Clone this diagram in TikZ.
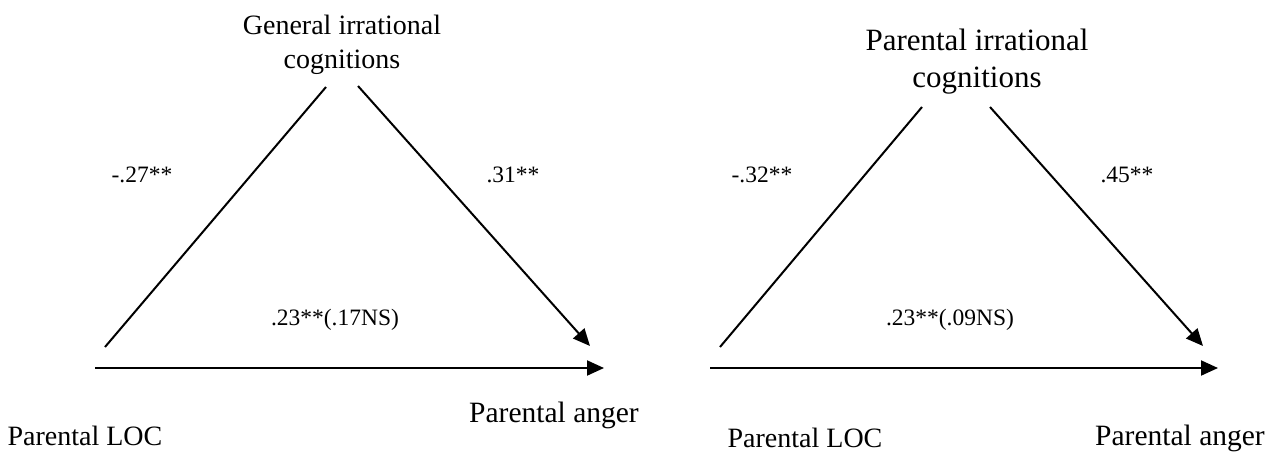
\documentclass[tikz,border=0pt]{standalone}
\usepackage{fontspec}
\setmainfont{Liberation Serif}
\usetikzlibrary{arrows.meta}
\begin{document}
\begin{tikzpicture}[x=1pt,y=-1pt,
  lbl/.style={font=\fontsize{28}{34}\selectfont, align=center, inner sep=0pt},
  biglbl/.style={font=\fontsize{31}{37}\selectfont, align=center, inner sep=0pt},
  anglbl/.style={font=\fontsize{29.5}{34}\selectfont, inner sep=0pt},
  coef/.style={font=\fontsize{23.5}{28}\selectfont, inner sep=0pt},
  link/.style={line width=2pt},
  arr/.style={line width=2pt, -{Triangle[length=17pt,width=15pt]}}]
\useasboundingbox (0,0) rectangle (1274,464);
% left model
\node[lbl] (g) at (342,45) {General irrational\\cognitions};
\node[lbl] (loc1) at (85,436) {Parental LOC};
\node[anglbl] (ang1) at (554,415) {Parental anger};
\node[coef] (a1) at (142,175) {-.27**};
\node[coef] (b1) at (513,175) {.31**};
\node[coef] (c1) at (335,320) {.23**(.17NS)};
\coordinate (l1s) at (105,347);
\coordinate (l1e) at (326,87);
\coordinate (r1s) at (358,86);
\coordinate (r1e) at (590,346);
\coordinate (h1s) at (95,368);
\coordinate (h1e) at (604,368);
\draw[link] (l1s) -- (l1e);
\draw[arr] (r1s) -- (r1e);
\draw[arr] (h1s) -- (h1e);
% right model
\node[biglbl] (p) at (977,62) {Parental irrational\\cognitions};
\node[lbl] (loc2) at (805,438) {Parental LOC};
\node[anglbl] (ang2) at (1180,438) {Parental anger};
\node[coef] (a2) at (762,175) {-.32**};
\node[coef] (b2) at (1127,175) {.45**};
\node[coef] (c2) at (950,320) {.23**(.09NS)};
\coordinate (l2s) at (720,347);
\coordinate (l2e) at (922,107);
\coordinate (r2s) at (990,107);
\coordinate (r2e) at (1203,346);
\coordinate (h2s) at (710,368);
\coordinate (h2e) at (1218,368);
\draw[link] (l2s) -- (l2e);
\draw[arr] (r2s) -- (r2e);
\draw[arr] (h2s) -- (h2e);
\end{tikzpicture}
\end{document}
